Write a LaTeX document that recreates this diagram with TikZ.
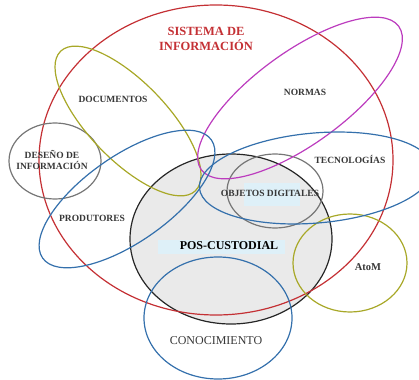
\documentclass[tikz,border=0pt]{standalone}
\usepackage{fontspec}
\setmainfont{Liberation Serif}
\usepackage{xcolor}
\usepackage{tikz}

\definecolor{sisred}{RGB}{196,48,52}
\definecolor{docolive}{RGB}{168,168,40}
\definecolor{normmag}{RGB}{188,60,190}
\definecolor{ringblue}{RGB}{52,112,172}
\definecolor{ringgray}{RGB}{118,118,118}
\definecolor{posfill}{RGB}{234,234,234}
\definecolor{hiblue}{RGB}{222,240,248}
\definecolor{labelgray}{RGB}{55,55,55}

\begin{document}
\begin{tikzpicture}[x=1pt,y=-1pt,
  ring/.style={line width=1.2pt},
  lbl/.style={font=\fontsize{9.5}{11}\selectfont\bfseries, text=labelgray, align=center},
  hilite/.style={fill=hiblue}]
  \useasboundingbox (0,0) rectangle (419,379);

  % Centres of the sets
  \coordinate (sis) at (216,160); % Sistema de informacion
  \coordinate (pos) at (231,239); % Pos-custodial
  \coordinate (con) at (218,318); % Conocimiento
  \coordinate (atom) at (350,263); % AtoM
  \coordinate (obj) at (275,191); % Objetos digitales
  \coordinate (des) at (55,161); % Deseno de informacion
  \coordinate (doc) at (128,121); % Documentos
  \coordinate (nor) at (300,98); % Normas
  \coordinate (pro) at (127,199); % Produtores
  \coordinate (tec) at (316,178); % Tecnologias

  % Grey ground of the pos-custodial set
  \fill[posfill] (pos) ellipse (101 and 85);

  % Highlights behind two labels
  \fill[hilite] (244,183) rectangle (300,206);
  \fill[hilite] (158,240) rectangle (285,254);

  % Draw the outlines
  \draw[ring,black!85] (pos) ellipse (101 and 85);
  \draw[ring,sisred] (sis) ellipse (177 and 155);
  \draw[ring,ringblue] (con) ellipse (74 and 61);
  \draw[ring,docolive] (atom) ellipse (57 and 49);
  \draw[ring,ringgray] (obj) ellipse (48 and 37);
  \draw[ring,ringgray] (des) ellipse (46 and 38);
  \draw[ring,docolive,rotate around={-46:(doc)}] (doc) ellipse (97 and 39);
  \draw[ring,normmag,rotate around={36:(nor)}] (nor) ellipse (122 and 46);
  \draw[ring,ringblue,rotate around={35:(pro)}] (pro) ellipse (103 and 43);
  \draw[ring,ringblue,rotate around={5:(tec)}] (tec) ellipse (117 and 45);

  % Label the sets
  \node[lbl,text=sisred,font=\fontsize{12.5}{15}\selectfont\bfseries] (sislbl) at (206,39) {SISTEMA DE\\INFORMACIÓN};
  \node[lbl] (doclbl) at (113,99) {DOCUMENTOS};
  \node[lbl] (norlbl) at (305,92) {NORMAS};
  \node[lbl] (deslbl) at (52,160) {DESEÑO DE\\INFORMACIÓN};
  \node[lbl] (teclbl) at (350,159) {TECNOLOGÍAS};
  \node[lbl] (objlbl) at (270,193) {OBJETOS DIGITALES};
  \node[lbl] (prolbl) at (92,218) {PRODUTORES};
  \node[lbl,text=black,font=\fontsize{12}{14}\selectfont\bfseries] (poslbl) at (229,246) {POS-CUSTODIAL};
  \node[lbl,font=\fontsize{10.5}{12}\selectfont\bfseries] (atomlbl) at (368,267) {AtoM};
  \node[lbl,font=\fontsize{12}{14}\selectfont] (conlbl) at (216,341) {CONOCIMIENTO};

\end{tikzpicture}
\end{document}
